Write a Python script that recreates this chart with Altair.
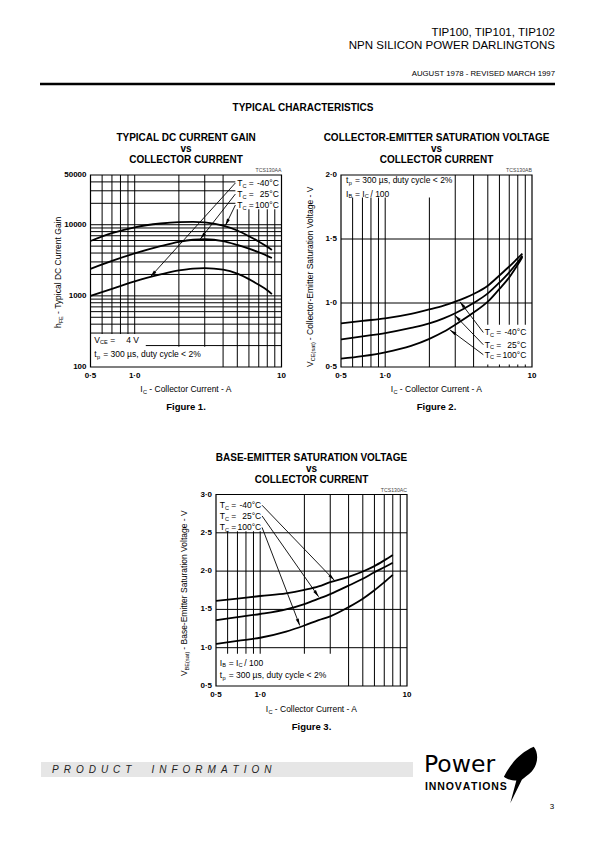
import math
import altair as alt
import pandas as pd

FONT = "Liberation Sans, Arial, Helvetica, sans-serif"
M = 8.0  # page margin

# ------------------------------------------------------------------ data
IC_A = [0.5, 0.7, 1.0, 1.5, 2.0, 2.5, 3.0, 4.0, 5.0, 6.0, 7.0, 8.0, 8.6]
HFE_M40 = [1000, 1250, 1600, 2000, 2280, 2420, 2450, 2330, 2050, 1720, 1430, 1200, 1060]
HFE_25 = [2400, 3100, 3950, 5000, 5750, 6150, 6250, 5900, 5200, 4600, 4100, 3650, 3400]
HFE_100 = [5900, 7600, 9200, 10400, 10900, 11000, 10800, 9700, 8300, 6900, 5800, 4900, 4400]

VCE_M40 = [0.84, 0.86, 0.88, 0.915, 0.95, 0.98, 1.01, 1.07, 1.135, 1.215, 1.285, 1.35, 1.385]
VCE_25 = [0.715, 0.74, 0.765, 0.805, 0.84, 0.88, 0.92, 1.0, 1.075, 1.16, 1.24, 1.32, 1.37]
VCE_100 = [0.565, 0.585, 0.615, 0.665, 0.72, 0.775, 0.83, 0.925, 1.01, 1.11, 1.2, 1.3, 1.36]

IC_B = [0.5, 0.7, 1.0, 1.5, 2.0, 2.5, 3.0, 4.0, 5.0, 6.0, 7.0, 8.0]
VBE_M40 = [1.61, 1.64, 1.675, 1.71, 1.755, 1.80, 1.855, 1.925, 1.995, 2.065, 2.14, 2.21]
VBE_25 = [1.36, 1.40, 1.44, 1.50, 1.57, 1.64, 1.70, 1.81, 1.90, 1.985, 2.05, 2.11]
VBE_100 = [1.05, 1.09, 1.13, 1.21, 1.29, 1.36, 1.41, 1.53, 1.64, 1.75, 1.855, 1.95]

TEMPS = ["-40°C", "25°C", "100°C"]

X_TICKS = [0.5, 1.0, 10.0]
X_TICK_LABELS = ["0·5", "1·0", "10"]
F1_Y_TICKS = [100, 1000, 10000, 50000]
F1_Y_TICK_LABELS = ["100", "1000", "10000", "50000"]
F2_Y_TICKS = [0.5, 1.0, 1.5, 2.0]
F2_Y_TICK_LABELS = ["0·5", "1·0", "1·5", "2·0"]
F3_Y_TICKS = [0.5, 1.0, 1.5, 2.0, 2.5, 3.0]
F3_Y_TICK_LABELS = ["0·5", "1·0", "1·5", "2·0", "2·5", "3·0"]

X_GRID = [0.6, 0.7, 0.8, 0.9, 1, 2, 3, 4, 5, 6, 7, 8, 9]
F1_Y_GRID = [200, 300, 400, 500, 600, 700, 800, 900,
             1000, 2000, 3000, 4000, 5000, 6000, 7000, 8000, 9000,
             10000, 20000, 30000, 40000]
F2_Y_GRID = [1.0, 1.5]
F3_Y_GRID = [1.0, 1.5, 2.0, 2.5]

# label anchor / arrow (start x, start y, tip x, tip y)
F1_LABEL_X = 5.0
F1_LABEL_Y = [38600, 27000, 18900]
F1_ARROWS = [(4.85, 38600, 1.28, 1850), (4.85, 27000, 2.8, 6300), (4.85, 18900, 4.15, 9750)]
F2_LABEL_X = 4.77
F2_LABEL_Y = [0.77, 0.674, 0.596]
F2_ARROWS = [(4.66, 0.77, 3.23, 1.01), (4.66, 0.674, 2.98, 0.905), (4.66, 0.596, 2.76, 0.79)]
F3_LABEL_X = 0.53
F3_LABEL_Y = [2.86, 2.72, 2.57]
F3_ARROWS = [(1.03, 2.86, 3.2, 1.88), (1.03, 2.72, 2.5, 1.665), (1.03, 2.57, 1.86, 1.29)]

# white boxes behind annotations (x, x2, y, y2)
F1_BOXES = [(0.5, 1.19, 100, 290), (1.19, 3.6, 100, 192), (4.85, 10, 16500, 50000)]
F2_BOXES = [(0.5, 2.85, 1.825, 2.0), (4.6, 10, 0.52, 0.83)]
F3_BOXES = [(0.5, 1.08, 2.52, 3.0), (0.5, 3.6, 0.5, 0.92)]

# plot geometry on the page (px)
GEOM = {
    1: dict(x0=90.5, x1=281.5, y0=175.0, y1=367.0, ylog=True, ydom=[100, 50000]),
    2: dict(x0=341.0, x1=532.0, y0=175.0, y1=367.0, ylog=False, ydom=[0.5, 2.0]),
    3: dict(x0=216.0, x1=407.0, y0=494.5, y1=686.0, ylog=False, ydom=[0.5, 3.0]),
}

ARROW_SHAPE = "M0,0L-0.45,2L0.45,2Z"
LOGO_SHAPE = ("M-0.59,0.06C-0.37,-0.37,-0.06,-0.75,0.44,-0.97"
              "C0.62,-0.75,0.59,-0.37,0.37,-0.12C0.25,0,0.12,0.09,0.03,0.16"
              "L-0.37,0.97L-0.16,0.19C-0.28,0.19,-0.47,0.16,-0.59,0.06Z")


def to_px(g, x, y):
    fx = (math.log10(x) - math.log10(0.5)) / (1 - math.log10(0.5))
    lo, hi = g["ydom"]
    if g["ylog"]:
        fy = (math.log10(y) - math.log10(lo)) / (math.log10(hi) - math.log10(lo))
    else:
        fy = (y - lo) / (hi - lo)
    return g["x0"] + fx * (g["x1"] - g["x0"]), g["y1"] - fy * (g["y1"] - g["y0"])


def add(pieces, x, y, text, dx=0.0, dy=0.0, size=8.5, align="left", weight="normal", color="black"):
    pieces.append(dict(x=x, y=y, text=text, dx=dx, dy=dy, size=size, align=align,
                       weight=weight, color=color))


def sub(pieces, x, y, text, dx):
    add(pieces, x, y, text, dx=dx, dy=2.6, size=5.6)


def tc_rows(pieces, x, ys):
    for y, t in zip(ys, TEMPS):
        add(pieces, x, y, "T")
        sub(pieces, x, y, "C", 5.2)
        add(pieces, x, y, "=", dx=11.5)
        add(pieces, x, y, t, dx=41.5, align="right")


def tp_row(pieces, x, y):
    add(pieces, x, y, "t")
    sub(pieces, x, y, "p", 2.8)
    add(pieces, x, y, "= 300 µs, duty cycle < 2%", dx=9.0)


def ib_row(pieces, x, y):
    add(pieces, x, y, "I")
    sub(pieces, x, y, "B", 2.6)
    add(pieces, x, y, "= I", dx=9.0)
    sub(pieces, x, y, "C", 18.9)
    add(pieces, x, y, "/ 100", dx=24.5)


def vce_row(pieces, x, y):
    add(pieces, x, y, "V")
    sub(pieces, x, y, "CE", 5.8)
    add(pieces, x, y, "=", dx=16.0)
    add(pieces, x, y, "4 V", dx=32.0)


def build_figure(g, ic, series, vgrid, hgrid, boxes, arrows, pieces, yticks, yticklabels, tag):
    xs = alt.Scale(type="log", domain=[0.5, 10], range=[g["x0"] - M, g["x1"] - M], nice=False)
    if g["ylog"]:
        ys = alt.Scale(type="log", domain=g["ydom"], range=[g["y1"] - M, g["y0"] - M], nice=False)
    else:
        ys = alt.Scale(type="linear", domain=g["ydom"], range=[g["y1"] - M, g["y0"] - M],
                       nice=False, zero=False)

    def X(f):
        return alt.X(f, type="quantitative", scale=xs, axis=None)

    def Y(f):
        return alt.Y(f, type="quantitative", scale=ys, axis=None)

    ymin, ymax = g["ydom"]
    layers = []
    vg = pd.DataFrame({"x": vgrid, "y": [ymin] * len(vgrid), "y2": [ymax] * len(vgrid)})
    layers.append(alt.Chart(vg).mark_rule(color="black", strokeWidth=1.0)
                  .encode(x=X("x"), y=Y("y"), y2="y2:Q"))
    hg = pd.DataFrame({"y": hgrid, "x": [0.5] * len(hgrid), "x2": [10.0] * len(hgrid)})
    layers.append(alt.Chart(hg).mark_rule(color="black", strokeWidth=1.0)
                  .encode(y=Y("y"), x=X("x"), x2="x2:Q"))
    bx = pd.DataFrame(boxes, columns=["x", "x2", "y", "y2"])
    layers.append(alt.Chart(bx).mark_rect(color="white")
                  .encode(x=X("x"), x2="x2:Q", y=Y("y"), y2="y2:Q"))
    fr = pd.DataFrame({"x": [0.5], "x2": [10.0], "y": [ymin], "y2": [ymax]})
    layers.append(alt.Chart(fr).mark_rect(fillOpacity=0, stroke="black", strokeWidth=1.2)
                  .encode(x=X("x"), x2="x2:Q", y=Y("y"), y2="y2:Q"))

    rows = []
    for t, vals in zip(TEMPS, series):
        for a, v in zip(ic, vals):
            rows.append({"ic": a, "v": v, "t": t})
    cv = pd.DataFrame(rows)
    layers.append(alt.Chart(cv).mark_line(color="black", strokeWidth=1.8, interpolate="monotone")
                  .encode(x=X("ic"), y=Y("v"), detail="t:N"))

    ar = pd.DataFrame(arrows, columns=["x", "y", "x2", "y2"])
    layers.append(alt.Chart(ar).mark_rule(color="black", strokeWidth=0.9)
                  .encode(x=X("x"), y=Y("y"), x2="x2:Q", y2="y2:Q"))
    angs = []
    for xa, ya, xb, yb in arrows:
        ax, ay = to_px(g, xa, ya)
        bx_, by_ = to_px(g, xb, yb)
        angs.append((math.degrees(math.atan2(bx_ - ax, -(by_ - ay))) + 360) % 360)
    ah = pd.DataFrame({"x": ar["x2"], "y": ar["y2"], "ang": angs})
    layers.append(alt.Chart(ah).mark_point(shape=ARROW_SHAPE, filled=True, size=49, color="black",
                                           opacity=1, strokeWidth=0)
                  .encode(x=X("x"), y=Y("y"), angle=alt.Angle("ang:Q", scale=None)))

    # tick labels + tag
    for v, lab in zip(X_TICKS, X_TICK_LABELS):
        add(pieces, v, ymin, lab, dy=9.0, size=8, align="center", weight="bold")
    for v, lab in zip(yticks, yticklabels):
        add(pieces, 0.5, v, lab, dx=-4.0, size=8, align="right", weight="bold")
    add(pieces, 10.0, ymax, tag, dy=-5.0, size=5.2, align="right", color="#444444")

    df = pd.DataFrame(pieces)
    for key, grp in df.groupby(["dx", "dy", "size", "align", "weight", "color"], sort=False):
        dx, dy, size, align, weight, color = key
        layers.append(
            alt.Chart(grp[["x", "y", "text"]].reset_index(drop=True))
            .mark_text(dx=float(dx), dy=float(dy), fontSize=float(size), align=align,
                       fontWeight=weight, color=color, font=FONT, baseline="middle")
            .encode(x=X("x"), y=Y("y"), text="text:N"))
    return alt.layer(*layers)


# ------------------------------------------------------------ figure 1
p1 = []
tc_rows(p1, F1_LABEL_X, F1_LABEL_Y)
vce_row(p1, 0.53, 242)
tp_row(p1, 0.53, 152)
fig1 = build_figure(GEOM[1], IC_A, [HFE_M40, HFE_25, HFE_100], X_GRID, F1_Y_GRID, F1_BOXES,
                    F1_ARROWS, p1, F1_Y_TICKS, F1_Y_TICK_LABELS, "TCS130AA")

# ------------------------------------------------------------ figure 2
p2 = []
tp_row(p2, 0.54, 1.96)
ib_row(p2, 0.54, 1.855)
tc_rows(p2, F2_LABEL_X, F2_LABEL_Y)
fig2 = build_figure(GEOM[2], IC_A, [VCE_M40, VCE_25, VCE_100], X_GRID, F2_Y_GRID, F2_BOXES,
                    F2_ARROWS, p2, F2_Y_TICKS, F2_Y_TICK_LABELS, "TCS130AB")

# ------------------------------------------------------------ figure 3
p3 = []
tc_rows(p3, F3_LABEL_X, F3_LABEL_Y)
ib_row(p3, 0.53, 0.806)
tp_row(p3, 0.53, 0.64)
fig3 = build_figure(GEOM[3], IC_B, [VBE_M40, VBE_25, VBE_100], X_GRID, F3_Y_GRID, F3_BOXES,
                    F3_ARROWS, p3, F3_Y_TICKS, F3_Y_TICK_LABELS, "TCS130AC")

# ------------------------------------------------------------ page texts
PT = []


def pt(x, y, text, size=8.5, weight="normal", align="left", style="normal", font=FONT,
       angle=0, color="black"):
    PT.append(dict(px=x - M, py=y - M, text=text, size=size, weight=weight, align=align,
                   style=style, font=font, angle=angle, color=color))


pt(555, 33, "TIP100, TIP101, TIP102", size=11.5, align="right")
pt(555, 46, "NPN SILICON POWER DARLINGTONS", size=11.5, align="right")
pt(555, 74, "AUGUST 1978 - REVISED MARCH 1997", size=7.8, align="right")
pt(303, 108, "TYPICAL CHARACTERISTICS", size=10, weight="bold", align="center")

TITLES = [
    (186.0, 138.0, ["TYPICAL DC CURRENT GAIN", "vs", "COLLECTOR CURRENT"], 407.0, "Figure 1."),
    (436.5, 138.0, ["COLLECTOR-EMITTER SATURATION VOLTAGE", "vs", "COLLECTOR CURRENT"], 407.0, "Figure 2."),
    (311.5, 458.0, ["BASE-EMITTER SATURATION VOLTAGE", "vs", "COLLECTOR CURRENT"], 727.0, "Figure 3."),
]
for cx, ty, lines, fy, flab in TITLES:
    for i, ln in enumerate(lines):
        pt(cx, ty + 11 * i, ln, size=10, weight="bold", align="center")
    pt(cx, fy, flab, size=9.5, weight="bold", align="center")

# x axis titles
for cx, yy in [(186.0, 389.0), (436.5, 389.0), (311.5, 709.0)]:
    pt(cx - 45.7, yy, "I")
    pt(cx - 43.1, yy + 2.6, "C", size=5.6)
    pt(cx - 36.7, yy, "- Collector Current - A")

# rotated y axis titles (reading upward)
pt(58, 328.0, "h", angle=270)
pt(60.6, 323.3, "FE", size=5.6, angle=270)
pt(58, 313.9, "- Typical DC Current Gain", angle=270)

pt(310, 366.9, "V", angle=270)
pt(312.6, 361.2, "CE(sat)", size=5.6, angle=270)
pt(310, 340.2, "- Collector-Emitter Saturation Voltage - V", angle=270)

pt(184, 676.1, "V", angle=270)
pt(186.6, 670.4, "BE(sat)", size=5.6, angle=270)
pt(184, 649.7, "- Base-Emitter Saturation Voltage - V", angle=270)

# footer
SP = "\u2002"
pt(52, 769.5, SP.join("PRODUCT") + SP * 4 + SP.join("INFORMATION"), size=10, style="italic",
   color="#222222")
pt(424, 764.5, "Power", size=23.5, font="DejaVu Sans, Liberation Sans, sans-serif")
pt(425, 786.5, "\u200a".join("INNOVATIONS"), size=10.5, weight="bold")
pt(552, 807, "3", size=8, align="center")

ptdf = pd.DataFrame(PT)
page_layers = []
one = pd.DataFrame({"a": [0]})
page_layers.append(alt.Chart(one).mark_rect(color="#e6e6e6")
                   .encode(x=alt.value(41 - M), x2=alt.value(413 - M),
                           y=alt.value(762 - M), y2=alt.value(777 - M)))
page_layers.append(alt.Chart(one).mark_rule(color="black", strokeWidth=2.5)
                   .encode(x=alt.value(40 - M), x2=alt.value(555 - M), y=alt.value(84 - M)))
page_layers.append(alt.Chart(one).mark_point(shape=LOGO_SHAPE, size=3364, filled=True,
                                             color="black", opacity=1, strokeWidth=0)
                   .encode(x=alt.value(521 - M), y=alt.value(775 - M)))
for key, grp in ptdf.groupby(["size", "weight", "align", "style", "font", "angle", "color"], sort=False):
    size, weight, align, style, font, angle, color = key
    page_layers.append(
        alt.Chart(grp[["px", "py", "text"]].reset_index(drop=True))
        .mark_text(fontSize=float(size), fontWeight=weight, align=align, fontStyle=style,
                   font=font, angle=float(angle), color=color, baseline="middle")
        .encode(x=alt.X("px:Q", scale=None), y=alt.Y("py:Q", scale=None), text="text:N"))

chart = (
    alt.layer(fig1, fig2, fig3, *page_layers)
    .resolve_scale(x="independent", y="independent")
    .properties(width=579, height=826, padding=0, background="white",
                autosize=alt.AutoSizeParams(type="none"))
    .configure_view(strokeWidth=0)
)

chart.save("out.html", embed_options={"renderer": "svg", "actions": False})
